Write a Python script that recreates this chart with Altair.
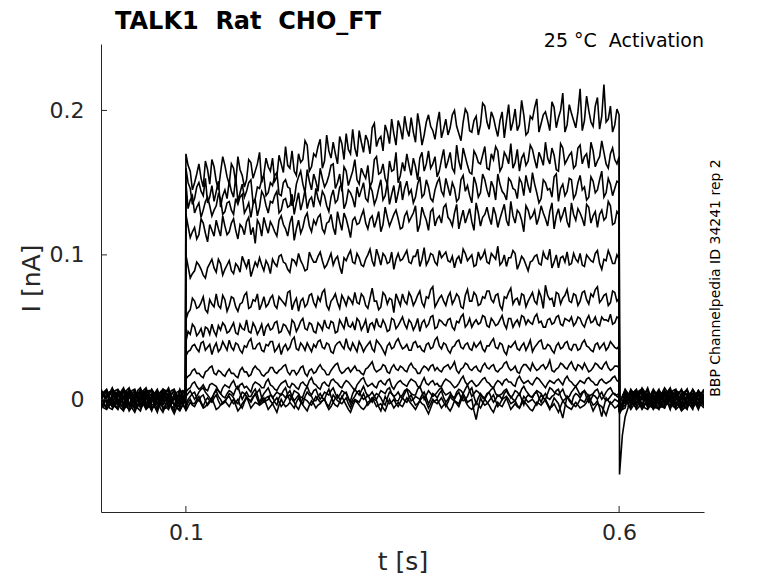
import altair as alt
import pandas as pd
import numpy as np

# ---- data (current in pA, i.e. 0.001 nA) ----
# baseline before the step: samples on a 0.0065 s grid from 0.002 s, plus the in-between samples
pre_pulse = [
    [5, -6, 7, -2, -8, 6, -3, 8, -5, 3, -7, 6, 1, -6, 5, 2],
    [-3, 7, -5, 6, 2, -7, 4, -3, 8, -6, 0, 7, -4, 3, -8, 1],
    [6, -1, -7, 4, -5, 8, -2, 6, -6, 1, 5, -9, 3, 7, -3, 4],
    [-7, 4, 2, -6, 7, -3, 1, -8, 5, 6, -4, 3, -7, 0, 6, -2],
    [3, -5, 8, -2, 1, 5, -9, 3, -6, 7, -2, 1, 4, -10, 2, 6],
    [0, 6, -3, -7, 5, 1, 7, -4, 3, -8, 6, -2, 8, -5, 1, -6],
    [-5, 3, 6, 0, -6, 7, -4, 5, -7, 2, 0, 6, -6, 4, -2, 7],
    [7, -3, 1, 5, -7, 3, 6, -6, 0, 4, -9, 7, 2, -3, -7, 1],
    [-6, 1, 5, -4, 8, -5, 2, 0, 7, -4, 3, -6, 1, 6, -4, 3],
    [2, 6, -5, 3, -3, 5, -7, 7, -2, 1, 6, -4, 4, -8, 7, -3],
    [-2, -7, 3, 7, 0, -4, 5, -3, 6, -7, 2, 5, -2, 3, -6, 4],
    [4, 0, -5, -2, 6, -8, 2, 6, -4, 3, -6, 1, 6, -4, 4, -7],
    [1, 5, -3, 6, -4, 3, -6, 0, 5, -2, 7, -7, -4, 1, 3, -2],
    [-4, 3, 0, -6, 2, 6, -2, -5, 3, 6, -3, 4, -2, 6, -4, 5],
]
pre_pulse_mid = [
    [-4, 3, 5, -6, -2, 4, 6, 2, -4, -5, 1, 4, -5, 0, 6],
    [5, 2, -1, 4, -5, -2, 1, 6, 2, -4, 5, 2, -3, -6, -4],
    [2, -6, -3, 1, 6, 2, 4, -1, -5, 3, -6, -4, 6, 2, -1],
    [-2, 5, -4, 3, 5, -2, -6, -2, 6, 0, -3, -5, -2, 5, 3],
    [-3, 4, 3, -2, 3, -6, -4, -2, 3, 4, -3, 3, -6, -5, 4],
    [4, 2, -5, -2, 3, 6, 2, -3, -4, -2, 3, 5, 2, -3, -4],
    [-2, 5, 3, -4, 2, 3, 0, -3, -5, 1, 4, 0, -3, 2, 5],
    [3, -2, 3, -3, -5, 4, 1, -4, 2, -5, -2, 6, -2, -6, -4],
    [-3, 3, 0, 5, 2, -3, 1, 4, 2, -3, -2, -4, 4, 0, -2],
    [5, 0, -3, 1, 3, -3, 0, 5, -2, 4, 1, 0, -5, 1, 2],
    [-6, -4, 6, 4, -2, 1, 0, 3, -3, -4, 4, 1, 0, -3, 1],
    [3, -3, -4, 2, -2, -5, 4, 1, -2, -3, -4, 5, 0, 1, -3],
    [3, 0, 2, 1, -3, -2, -5, 3, 0, 4, 1, -6, -2, 2, 0],
    [-3, 1, -5, -2, 4, 2, -4, 0, 5, 2, 0, 1, 3, 0, 1],
]

# during the step: samples every 0.005 s from 0.1 s to 0.6 s, plus the in-between samples
during_pulse = [
    [170, 158, 150, 163, 147, 159, 166, 151, 157, 162,
     149, 160, 168, 155, 152, 164, 158, 171, 156, 161,
     167, 154, 163, 175, 160, 158, 170, 166, 176, 161,
     168, 180, 165, 172, 178, 163, 177, 184, 170, 174,
     186, 171, 179, 188, 175, 182, 190, 177, 184, 193,
     180, 187, 195, 178, 189, 183, 197, 186, 191, 181,
     194, 188, 200, 184, 192, 198, 185, 196, 190, 203,
     187, 195, 182, 199, 193, 186, 201, 190, 197, 185,
     194, 208, 191, 199, 186, 202, 195, 212, 190, 198,
     188, 215, 193, 200, 189, 209, 196, 192, 203, 190, 197],
    [160, 146, 139, 150, 141, 136, 148, 144, 133, 145,
     151, 140, 137, 149, 144, 152, 139, 146, 155, 143,
     148, 157, 141, 152, 146, 138, 154, 149, 159, 145,
     151, 160, 147, 155, 163, 150, 144, 158, 153, 166,
     149, 156, 162, 151, 168, 157, 153, 165, 159, 150,
     164, 170, 155, 161, 167, 158, 172, 163, 154, 166,
     160, 171, 157, 165, 174, 162, 156, 169, 163, 175,
     159, 166, 172, 161, 168, 177, 164, 158, 170, 165,
     173, 160, 167, 178, 163, 169, 158, 174, 166, 171,
     162, 176, 168, 160, 172, 165, 179, 163, 170, 166, 168],
    [150, 138, 129, 136, 131, 140, 127, 134, 139, 130,
     137, 128, 135, 142, 132, 126, 138, 133, 141, 129,
     136, 144, 131, 139, 134, 128, 143, 137, 132, 140,
     146, 135, 141, 130, 145, 138, 149, 136, 143, 133,
     140, 150, 137, 144, 139, 152, 141, 135, 148, 143,
     138, 151, 145, 140, 154, 142, 147, 137, 150, 144,
     153, 141, 146, 139, 155, 148, 136, 149, 143, 152,
     140, 147, 156, 144, 138, 151, 145, 153, 141, 148,
     157, 143, 139, 150, 146, 154, 137, 149, 144, 152,
     142, 155, 147, 140, 151, 145, 158, 143, 149, 146, 150],
    [128, 112, 119, 114, 122, 109, 117, 124, 113, 120,
     116, 125, 111, 119, 123, 114, 108, 121, 126, 115,
     120, 113, 127, 118, 122, 110, 124, 119, 129, 116,
     121, 128, 115, 123, 119, 130, 117, 125, 112, 126,
     122, 131, 118, 127, 124, 116, 133, 120, 128, 125,
     119, 130, 126, 134, 121, 128, 117, 132, 125, 122,
     135, 124, 129, 118, 131, 127, 123, 136, 120, 128,
     126, 133, 119, 130, 124, 137, 122, 129, 116, 131,
     127, 121, 134, 125, 130, 118, 132, 128, 123, 136,
     124, 129, 120, 133, 127, 119, 131, 126, 134, 122, 128],
    [100, 84, 89, 93, 86, 91, 97, 88, 94, 90,
     96, 87, 92, 99, 91, 85, 95, 98, 89, 93,
     97, 92, 100, 94, 88, 96, 101, 93, 90, 98,
     95, 102, 91, 97, 93, 99, 87, 96, 103, 94,
     98, 92, 100, 96, 104, 93, 99, 95, 90, 101,
     97, 103, 94, 99, 92, 105, 96, 100, 93, 98,
     102, 95, 91, 99, 104, 96, 100, 93, 97, 103,
     94, 99, 106, 95, 92, 98, 101, 94, 97, 89,
     96, 100, 93, 98, 104, 95, 91, 99, 102, 94,
     97, 101, 92, 98, 95, 103, 90, 96, 99, 94, 97],
    [55, 62, 68, 64, 71, 60, 66, 73, 63, 69,
     65, 70, 61, 67, 74, 64, 68, 62, 71, 66,
     72, 63, 69, 65, 75, 67, 61, 70, 66, 73,
     64, 68, 76, 62, 70, 67, 72, 65, 69, 74,
     66, 71, 63, 77, 68, 64, 72, 70, 60, 69,
     73, 66, 71, 68, 75, 64, 70, 78, 67, 72,
     65, 74, 69, 71, 63, 76, 68, 72, 66, 70,
     75, 67, 73, 62, 70, 77, 69, 65, 72, 68,
     74, 66, 71, 79, 69, 64, 73, 70, 76, 67,
     72, 68, 75, 66, 71, 78, 69, 73, 67, 74, 70],
    [40, 45, 50, 46, 43, 49, 52, 44, 48, 51,
     47, 53, 45, 49, 55, 46, 50, 48, 44, 52,
     49, 54, 47, 51, 45, 53, 50, 56, 48, 52,
     46, 51, 55, 49, 53, 47, 52, 57, 50, 48,
     54, 51, 46, 53, 56, 50, 52, 48, 55, 51,
     57, 49, 53, 51, 47, 55, 52, 58, 50, 54,
     51, 56, 48, 53, 59, 52, 50, 55, 53, 57,
     50, 54, 52, 58, 49, 56, 53, 51, 57, 55,
     52, 59, 54, 50, 56, 53, 58, 51, 55, 57,
     53, 56, 50, 58, 54, 52, 57, 55, 59, 53, 56],
    [30, 34, 38, 33, 40, 36, 31, 39, 35, 37,
     41, 34, 38, 32, 36, 42, 35, 39, 33, 37,
     40, 35, 31, 38, 36, 43, 34, 37, 39, 33,
     36, 41, 35, 38, 32, 39, 37, 42, 34, 36,
     40, 33, 38, 35, 41, 37, 31, 39, 36, 42,
     35, 38, 34, 40, 37, 33, 39, 36, 43, 35,
     38, 32, 37, 41, 35, 39, 34, 36, 40, 33,
     37, 42, 35, 38, 31, 36, 40, 34, 39, 37,
     33, 38, 41, 35, 37, 32, 39, 36, 40, 34,
     38, 35, 41, 36, 33, 39, 37, 34, 40, 36, 37],
    [14, 17, 21, 18, 15, 20, 23, 17, 19, 16,
     21, 18, 15, 22, 19, 17, 23, 20, 16, 19,
     22, 18, 21, 24, 17, 20, 19, 23, 16, 21,
     19, 24, 20, 17, 22, 25, 18, 21, 19, 23,
     20, 17, 22, 26, 19, 21, 23, 18, 24, 20,
     22, 19, 25, 21, 18, 23, 20, 24, 22, 19,
     23, 21, 26, 18, 22, 24, 20, 23, 19, 25,
     21, 24, 19, 22, 26, 20, 23, 18, 24, 22,
     25, 20, 23, 21, 27, 19, 22, 24, 21, 26,
     20, 23, 25, 19, 22, 24, 21, 26, 20, 23, 22],
    [5, 8, 12, 7, 10, 6, 11, 9, 4, 10,
     8, 13, 7, 11, 9, 5, 12, 10, 8, 14,
     9, 6, 11, 13, 8, 10, 7, 12, 9, 15,
     10, 7, 12, 9, 14, 11, 8, 13, 10, 6,
     12, 15, 9, 11, 8, 13, 10, 14, 7, 12,
     11, 9, 14, 12, 8, 15, 10, 13, 11, 9,
     14, 12, 8, 11, 16, 10, 13, 9, 12, 15,
     11, 8, 13, 10, 14, 12, 9, 16, 11, 13,
     10, 15, 12, 8, 13, 11, 14, 10, 16, 12,
     9, 13, 11, 15, 12, 10, 14, 11, 13, 16, 12],
    [2, 6, 0, 5, 8, 3, -1, 7, 4, 1,
     6, 3, 9, 0, 5, 2, 7, -2, 4, 8,
     1, 5, 3, 8, -1, 6, 4, 2, 9, 3,
     7, 0, 5, 3, 8, 1, 6, 4, -1, 7,
     3, 9, 2, 5, 0, 6, 4, 8, 2, 5,
     1, 7, 4, 3, 9, 0, 6, 2, 5, 8,
     3, 5, 1, 7, 4, 10, 2, 6, 3, 0,
     5, 8, 2, 4, 7, 1, 6, 3, 9, 4,
     2, 6, 4, 0, 8, 5, 3, 7, 1, 5,
     9, 3, 6, 2, 4, 7, 0, 5, 8, 3, 4],
    [-3, 2, 5, -1, 3, -4, 1, 6, 0, -2,
     4, 1, -3, 5, 2, -1, 3, 7, -2, 0,
     2, -4, 4, 1, 6, -1, 3, -3, 5, 2,
     -1, 4, 0, 7, -2, 3, 1, 5, -3, 2,
     6, 0, 3, -2, 4, 1, -4, 5, 2, -1,
     3, 7, -1, 2, 0, 5, -3, 4, 1, 6,
     -2, 3, 0, 5, -1, 2, 8, -3, 4, 1,
     5, -2, 3, 0, 6, 2, -1, 4, -4, 3,
     1, 5, -2, 4, 0, 3, 7, -1, 2, -3,
     4, 1, 6, -2, 3, 0, 5, -1, 2, 4, 1],
    [-6, 0, -3, 2, -5, 1, -2, 3, -4, -1,
     2, -3, 0, -6, 1, -2, 4, -4, -1, 2,
     -3, 1, -5, 0, 3, -2, -7, 1, -1, -4,
     2, -2, 0, -5, 3, -1, -3, 1, -6, 0,
     -2, 4, -4, 1, -1, -8, 2, -3, 0, -5,
     1, -2, 3, -4, -1, 2, -6, 0, -3, 1,
     -5, 2, -1, -3, 4, -2, 0, -14, 1, -4,
     -1, 3, -5, 0, 2, -3, -1, -6, 2, -2,
     0, -4, 3, -1, -7, 1, -3, -13, 2, -2,
     -5, 0, -2, 3, -4, -1, -12, 1, -3, 0, -2],
    [-8, -2, -5, 0, -6, -3, 1, -7, -4, -1,
     -5, 0, -8, -3, 2, -6, -2, -4, 1, -7,
     -3, -9, 0, -5, -2, -6, 1, -4, -8, -1,
     -6, -3, 0, -7, -2, -5, 2, -4, -9, -1,
     -4, -7, -2, 1, -5, -3, -8, 0, -6, -2,
     -5, 1, -3, -7, -1, -4, -10, -2, 0, -6,
     -3, -8, -1, -5, 2, -4, -7, -2, -6, 0,
     -4, -9, -2, -5, 1, -7, -3, -6, -1, -5,
     -8, -2, -4, 0, -6, -3, -9, -1, -5, -7,
     -2, -6, -4, 1, -8, -3, -5, -11, -2, -6, -3],
]
during_pulse_mid = [
    [162, 145, 156, 153, 165, 149, 161, 145, 168, 154,
     163, 150, 159, 147, 166, 153, 163, 150, 167, 158,
     151, 169, 157, 162, 172, 155, 164, 179, 158, 170,
     175, 160, 183, 167, 170, 182, 166, 173, 187, 168,
     178, 183, 170, 191, 180, 172, 185, 194, 176, 188,
     196, 182, 185, 198, 176, 192, 189, 180, 199, 187,
     183, 197, 189, 179, 201, 186, 193, 183, 205, 192,
     199, 188, 193, 181, 204, 192, 186, 207, 183, 196,
     202, 185, 197, 193, 206, 188, 200, 185, 204, 193,
     199, 186, 210, 192, 203, 187, 218, 194, 185, 201],
    [150, 135, 147, 144, 153, 140, 137, 151, 141, 139,
     144, 154, 143, 140, 150, 136, 147, 152, 141, 150,
     155, 142, 150, 147, 134, 149, 158, 143, 151, 156,
     144, 153, 150, 162, 146, 156, 161, 148, 158, 152,
     160, 153, 147, 166, 156, 163, 149, 158, 171, 155,
     158, 162, 167, 152, 171, 163, 160, 168, 158, 173,
     165, 160, 176, 159, 168, 157, 172, 164, 169, 160,
     170, 175, 158, 171, 163, 160, 173, 167, 162, 176,
     166, 171, 162, 167, 174, 159, 177, 163, 169, 160,
     174, 163, 170, 178, 161, 168, 171, 160, 174, 163],
    [132, 141, 133, 126, 137, 134, 131, 142, 128, 136,
     131, 139, 140, 129, 136, 135, 127, 144, 134, 137,
     141, 129, 138, 133, 142, 136, 131, 145, 138, 133,
     139, 144, 134, 140, 136, 147, 132, 145, 139, 147,
     145, 139, 148, 135, 146, 138, 150, 142, 136, 151,
     146, 142, 136, 149, 140, 152, 139, 145, 153, 141,
     147, 150, 137, 152, 144, 141, 154, 140, 156, 145,
     151, 138, 149, 142, 153, 146, 139, 150, 155, 143,
     149, 136, 152, 145, 140, 156, 146, 141, 153, 139,
     150, 145, 138, 154, 143, 152, 140, 153, 141, 151],
    [120, 116, 111, 125, 115, 121, 113, 118, 127, 114,
     122, 117, 121, 114, 126, 119, 124, 113, 120, 123,
     116, 124, 121, 113, 127, 118, 115, 126, 120, 124,
     126, 118, 122, 128, 114, 123, 129, 119, 124, 121,
     127, 122, 125, 119, 130, 121, 126, 124, 131, 118,
     127, 123, 129, 116, 133, 124, 130, 120, 127, 133,
     126, 120, 135, 125, 122, 132, 117, 129, 126, 133,
     121, 128, 125, 135, 120, 127, 131, 124, 134, 125,
     131, 126, 129, 120, 136, 127, 124, 133, 119, 128,
     132, 125, 135, 122, 130, 128, 124, 137, 121, 130],
    [92, 87, 95, 90, 84, 94, 91, 97, 86, 93,
     89, 94, 88, 95, 97, 90, 92, 93, 96, 87,
     94, 99, 95, 90, 97, 93, 96, 89, 102, 95,
     99, 96, 93, 101, 97, 92, 98, 100, 95, 101,
     93, 97, 104, 92, 99, 101, 94, 102, 97, 96,
     100, 95, 99, 104, 97, 93, 101, 95, 103, 100,
     96, 99, 97, 94, 101, 98, 92, 102, 99, 95,
     101, 97, 93, 100, 98, 103, 90, 99, 93, 95,
     99, 94, 102, 97, 91, 100, 98, 95, 93, 101,
     95, 93, 100, 96, 101, 94, 97, 103, 94, 100],
    [60, 70, 63, 67, 62, 69, 64, 65, 72, 61,
     71, 64, 66, 72, 63, 69, 73, 66, 64, 70,
     65, 71, 67, 74, 62, 70, 68, 64, 72, 67,
     71, 74, 65, 68, 73, 63, 69, 71, 66, 67,
     73, 65, 70, 68, 62, 74, 66, 69, 73, 65,
     68, 74, 65, 72, 67, 71, 76, 64, 70, 68,
     71, 66, 73, 64, 72, 68, 74, 65, 71, 75,
     69, 72, 65, 71, 74, 66, 70, 73, 64, 71,
     68, 75, 63, 72, 70, 74, 66, 72, 68, 73,
     65, 74, 69, 73, 76, 67, 72, 65, 75, 68],
    [47, 52, 44, 49, 50, 45, 47, 51, 53, 46,
     50, 46, 52, 48, 47, 53, 45, 52, 50, 48,
     53, 46, 52, 48, 55, 47, 54, 49, 53, 47,
     53, 48, 50, 54, 46, 55, 49, 51, 53, 56,
     48, 55, 52, 49, 51, 55, 47, 56, 49, 54,
     52, 55, 48, 56, 53, 50, 57, 49, 55, 52,
     55, 50, 54, 57, 50, 56, 53, 52, 58, 51,
     56, 51, 55, 52, 56, 50, 55, 58, 52, 53,
     57, 53, 50, 55, 52, 57, 52, 56, 54, 51,
     57, 52, 55, 53, 57, 51, 55, 54, 52, 57],
    [33, 37, 35, 39, 34, 38, 36, 33, 40, 34,
     36, 39, 34, 37, 40, 35, 38, 34, 38, 40,
     33, 38, 36, 34, 41, 35, 39, 34, 36, 38,
     40, 36, 39, 33, 37, 40, 35, 36, 39, 33,
     37, 36, 40, 33, 39, 34, 37, 35, 40, 38,
     36, 34, 39, 36, 34, 38, 35, 41, 37, 39,
     34, 36, 40, 36, 38, 35, 39, 38, 35, 37,
     40, 36, 39, 33, 37, 38, 35, 37, 34, 41,
     36, 40, 35, 38, 34, 37, 35, 39, 35, 38,
     34, 39, 37, 34, 38, 35, 39, 36, 38, 35],
    [16, 20, 18, 16, 19, 22, 18, 20, 17, 19,
     18, 16, 20, 19, 16, 21, 21, 17, 18, 22,
     19, 20, 23, 19, 20, 17, 22, 18, 20, 18,
     22, 21, 17, 20, 24, 20, 19, 22, 21, 20,
     18, 21, 24, 21, 20, 24, 19, 22, 21, 23,
     20, 23, 22, 18, 21, 22, 23, 20, 20, 22,
     24, 23, 20, 21, 25, 21, 22, 20, 23, 22,
     23, 20, 21, 25, 22, 21, 19, 22, 24, 20,
     22, 21, 24, 23, 20, 21, 25, 22, 24, 22,
     24, 21, 22, 20, 25, 22, 24, 22, 21, 23],
    [7, 11, 9, 8, 7, 10, 10, 6, 8, 9,
     11, 9, 10, 8, 7, 10, 11, 8, 12, 10,
     7, 9, 12, 9, 11, 8, 11, 10, 13, 11,
     8, 11, 10, 13, 12, 9, 11, 12, 8, 10,
     14, 11, 10, 9, 12, 11, 13, 9, 10, 13,
     10, 12, 13, 9, 12, 11, 12, 10, 9, 12,
     13, 10, 9, 14, 12, 12, 11, 10, 14, 12,
     9, 11, 12, 13, 12, 10, 14, 13, 12, 11,
     13, 14, 10, 11, 12, 13, 12, 14, 13, 10,
     11, 12, 14, 13, 10, 13, 12, 12, 15, 13],
    [4, 3, 2, 7, 5, 1, 4, 6, 2, 4,
     5, 7, 4, 3, 2, 5, 3, 1, 6, 4,
     3, 4, 6, 3, 2, 5, 1, 6, 5, 6,
     3, 2, 4, 6, 4, 3, 5, 0, 4, 5,
     6, 5, 3, 2, 3, 5, 7, 4, 3, 2,
     4, 6, 3, 7, 5, 3, 4, 3, 7, 5,
     4, 2, 5, 6, 7, 6, 4, 5, 1, 3,
     7, 4, 3, 6, 4, 3, 5, 7, 6, 2,
     4, 5, 1, 4, 7, 4, 5, 3, 2, 7,
     6, 5, 4, 3, 6, 3, 2, 7, 5, 3],
    [0, 4, 1, 2, -1, -2, 4, 2, -3, 1,
     3, -2, 2, 4, 0, 2, 5, 1, -1, 3,
     -2, 1, 3, 4, 2, 1, -1, 2, 3, -1,
     2, 1, 4, 2, 1, 0, 4, 1, 0, 5,
     2, 1, 0, 2, 3, -2, 1, 4, -1, 2,
     6, 2, 0, 1, 3, 1, 0, 3, 4, 1,
     0, 2, 3, 1, 0, 6, 2, 1, 2, 4,
     1, 0, 2, 4, 3, 0, 2, 0, 1, 2,
     4, 1, 2, 1, 2, 6, 2, 0, -1, 2,
     3, 4, 1, 0, 2, 3, 1, 0, 4, 2],
    [-2, -3, 0, -2, -1, -1, 1, -1, -3, 1,
     -1, -2, -4, -2, 0, 1, 0, -3, 1, -1,
     -1, -2, -3, 2, 0, -5, -3, 0, -3, -1,
     0, -1, -3, -1, 1, -2, -1, -3, -2, -1,
     1, 0, -2, 0, -5, -3, -1, -2, -3, -2,
     -1, 1, -1, -3, 1, -2, -3, -2, -1, -2,
     -2, 0, -2, 1, 1, -1, -8, -6, -2, -3,
     1, -1, -3, 1, 0, -2, -4, -2, 0, -1,
     -2, 0, 1, -4, -3, -1, -8, -5, 0, -4,
     -3, -1, 1, -1, -3, -6, -5, -1, -2, -1],
    [-5, -4, -2, -3, -5, -1, -3, -6, -2, -3,
     -2, -4, -6, -1, -2, -4, -3, -1, -3, -5,
     -6, -4, -3, -4, -4, -2, -2, -6, -4, -3,
     -4, -1, -4, -5, -4, -2, -1, -7, -5, -2,
     -6, -5, -1, -2, -4, -6, -4, -3, -4, -4,
     -2, -1, -5, -4, -3, -7, -6, -1, -3, -4,
     -6, -5, -3, -1, -1, -6, -5, -4, -3, -2,
     -7, -5, -4, -2, -3, -5, -5, -3, -3, -7,
     -5, -3, -2, -3, -5, -6, -5, -3, -6, -4,
     -4, -5, -2, -4, -5, -4, -8, -6, -4, -5],
]

# after the step: samples on a 0.0065 s grid from 0.6005 s, plus the in-between samples
post_pulse = [
    [-52, -12, 6, -4, 7, 1, -6, 4, -2, 8, -5, 2, -7, 4, 0, -4],
    [-9, 4, -3, 7, -6, 2, 1, -7, 6, -2, 4, -5, 7, -6, 3, 0],
    [-7, -2, 6, 1, -5, 8, -6, 3, -2, 6, -7, 1, 4, -3, 6, -4],
    [-8, 6, -4, 3, 7, -2, 4, -6, 0, 5, 2, -8, 1, 6, -4, 3],
    [-6, 1, 4, -7, 3, -5, 7, 0, -6, 3, 7, -2, -6, 2, 5, -5],
    [-10, 2, -6, 5, 0, 6, -3, 7, -4, 1, -6, 4, 2, -7, 6, 1],
    [-4, 7, 1, -3, 6, -6, 3, -4, 8, -2, 1, 6, -5, 0, -3, 7],
    [-8, -4, 3, 6, -5, 4, -7, 1, 5, -7, 6, 2, -3, 4, -6, 2],
    [-6, 4, -7, 1, 5, -2, 6, -3, -6, 6, -4, 1, 7, -5, 3, -2],
    [-7, 1, 5, -4, 8, 2, -5, 6, 2, -4, 3, -6, 1, 4, -7, 4],
    [-5, -6, 7, 2, -3, -7, 1, 5, -2, 7, -3, 4, -5, 7, 0, -6],
    [-6, 3, -2, 6, 0, 4, -5, -6, 3, 1, 6, -7, 2, -3, 5, 1],
    [-3, 6, 0, -6, 4, -4, 6, 2, -5, 3, -4, 2, 6, 0, -4, 6],
    [-7, -2, 3, 5, -7, 1, 3, -3, 6, -6, 0, 7, -2, -5, 6, -2],
]
post_pulse_mid = [
    [-25, -6, 3, 5, 4, -5, 1, 3, 5, 2, -3, -5, 1, 3, -2],
    [-4, 3, 5, 0, -3, 1, -5, -2, 3, 0, 1, 3, 0, -3, 2],
    [-4, 3, 5, -3, 4, 2, -3, 0, 3, -3, -5, 3, 0, 3, 2],
    [-3, 1, -3, 6, 3, 0, -3, -5, 3, 4, -4, -6, 4, 1, -2],
    [-3, 3, -2, -5, 0, 3, 4, -4, -2, 6, 2, -5, -2, 4, 0],
    [-6, -3, 1, 3, 4, 2, 4, 2, -3, -5, 0, 5, -4, 0, 4],
    [2, 4, -3, 3, 0, -3, 0, 4, 5, -3, 4, 1, -3, -2, 4],
    [-6, 0, 5, 1, 0, -3, -4, 3, -2, 0, 5, 0, 3, -2, -3],
    [-2, -3, -4, 3, 2, 3, 2, -5, 0, 1, -3, 5, 2, -3, 0],
    [-4, 3, 0, 4, 5, -2, 3, 4, -3, 0, -3, -2, 3, -3, -2],
    [-7, 2, 4, 0, -6, -4, 3, 1, 5, 2, 0, 1, 3, 4, -4],
    [-3, 1, 3, 2, 3, 0, -6, -2, 1, 4, 0, -4, 0, 3, 2],
    [2, 3, -4, -2, 0, 2, 4, -3, 0, -2, 0, 5, 3, -3, 2],
    [-4, 1, 4, -3, -4, 2, 0, 3, 1, -3, 4, 3, -4, 2, 2],
]

x_ticks = [0.1, 0.6]
y_ticks = [0.0, 0.1, 0.2]
x_domain = [0.002, 0.698]
y_domain = [-0.078, 0.246]

title_text = "TALK1\u00a0 Rat\u00a0 CHO_FT"
corner_text = "25 \u00b0C\u00a0 Activation"
side_text = "BBP Channelpedia ID 34241 rep 2"


def interleave(main, mid):
    out = []
    for k, v in enumerate(main):
        out.append(v)
        if k < len(mid):
            out.append(mid[k])
    return out


# ---- build long table ----
rows = []
segments = [
    (pre_pulse, pre_pulse_mid, 0.002, 0.0995),
    (during_pulse, during_pulse_mid, 0.1, 0.6),
    (post_pulse, post_pulse_mid, 0.6005, 0.698),
]
for i in range(len(during_pulse)):
    ts, vs = [], []
    for main, mid, t0, t1 in segments:
        seg = interleave(main[i], mid[i])
        ts.extend(np.linspace(t0, t1, len(seg)))
        vs.extend(seg)
    for j, (t, v) in enumerate(zip(ts, vs)):
        rows.append({"trace": i, "idx": j, "t": float(t), "I": v / 1000.0})
df = pd.DataFrame(rows)

W, H = 603, 468
FONT = "DejaVu Sans"
AX = "#262626"

xscale = alt.Scale(domain=x_domain, nice=False, zero=False)
yscale = alt.Scale(domain=y_domain, nice=False, zero=False)

lines = alt.Chart(df).mark_line(color="black", strokeWidth=1.6, clip=True).encode(
    x=alt.X("t:Q", scale=xscale,
            axis=alt.Axis(values=x_ticks, format="~g", ticks=False, tickSize=0,
                          grid=False, domainColor=AX, domainWidth=1,
                          labelFont=FONT, labelFontSize=22, labelColor=AX,
                          labelPadding=10, title="t [s]", titleFont=FONT,
                          titleFontSize=25, titleFontWeight="normal",
                          titleColor=AX, titlePadding=6)),
    y=alt.Y("I:Q", scale=yscale,
            axis=alt.Axis(values=y_ticks, format="~g", ticks=False, tickSize=0,
                          grid=False, domainColor=AX, domainWidth=1,
                          labelFont=FONT, labelFontSize=22, labelColor=AX,
                          labelPadding=17, title="I [nA]", titleFont=FONT,
                          titleFontSize=25, titleFontWeight="normal",
                          titleColor=AX, titlePadding=5)),
    detail="trace:N",
    order="idx:Q",
)

xt = alt.Chart(pd.DataFrame({"t": x_ticks})).mark_rule(color=AX, strokeWidth=1).encode(
    x=alt.X("t:Q", scale=xscale), y=alt.value(H), y2=alt.value(H - 6))
yt = alt.Chart(pd.DataFrame({"I": y_ticks})).mark_rule(color=AX, strokeWidth=1).encode(
    y=alt.Y("I:Q", scale=yscale), x=alt.value(0), x2=alt.value(6))

corner = alt.Chart(pd.DataFrame({"s": [corner_text]})).mark_text(
    align="right", baseline="alphabetic", font=FONT, fontSize=19, color="black"
).encode(text="s:N", x=alt.value(W), y=alt.value(3))

side = alt.Chart(pd.DataFrame({"s": [side_text]})).mark_text(
    align="center", baseline="middle", angle=270, font=FONT, fontSize=14, color="black"
).encode(text="s:N", x=alt.value(615), y=alt.value(234))

chart = alt.layer(lines, xt, yt, corner, side).properties(
    width=W, height=H,
    title=alt.TitleParams(title_text, anchor="start", frame="group", font=FONT,
                          fontSize=24, fontWeight="bold", color="black",
                          dx=14, dy=12, offset=10),
    padding={"left": 93, "top": 36, "right": 66, "bottom": 63},
    autosize=alt.AutoSizeParams(type="none"),
).configure_view(stroke=None)

chart.save("out.html", embed_options={"renderer": "svg", "actions": False})
